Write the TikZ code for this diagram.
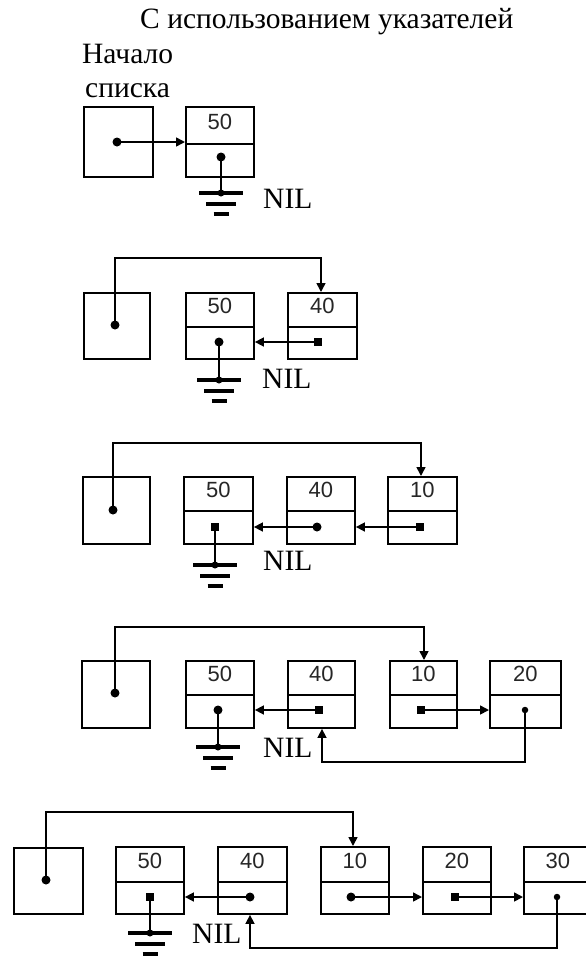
\documentclass[tikz,border=0pt]{standalone}
\usepackage{fontspec}
\setmainfont{Liberation Serif}
\newfontfamily\numfont{Liberation Sans}
\usetikzlibrary{arrows.meta}
\tikzset{
 box/.style={draw, line width=1.9pt, inner sep=0pt, rectangle},
 numtxt/.style={font=\numfont\fontsize{22}{22}\selectfont, text=black!85, text depth=8pt},
 lbl/.style={font=\fontsize{29.5}{31}\selectfont, inner sep=0pt, anchor=base west},
 ptr/.style={line width=1.6pt, -{Triangle[length=9pt,width=9pt]}},
 wire/.style={line width=1.6pt},
 rdot/.style={circle, fill, inner sep=0pt, minimum size=9pt},
 sdot/.style={rectangle, fill, inner sep=0pt, minimum size=8pt},
 tdot/.style={circle, fill, inner sep=0pt, minimum size=6.5pt},
 gbar/.style={line width=4pt},
}
\newcommand\headbox[5]{%
 \node[box, anchor=north west, minimum width={#4-#2}, minimum height={#5-#3}] (#1) at (#2,#3) {};}
\newcommand\lnode[7]{%
 \node[box, numtxt, anchor=north west, minimum width={#4-#2}, minimum height={#5-#3}] (#1t) at (#2,#3) {#7};
 \node[box, anchor=north west, minimum width={#4-#2}, minimum height={#6-#5}] (#1b) at (#2,#5) {};}
\newcommand\ground[1]{%
 \draw[gbar] ([xshift=-22pt]#1) -- ([xshift=22pt]#1);
 \draw[gbar] ([xshift=-15pt,yshift=-10.5pt]#1) -- ([xshift=15pt,yshift=-10.5pt]#1);
 \draw[gbar] ([xshift=-7.5pt,yshift=-21pt]#1) -- ([xshift=7.5pt,yshift=-21pt]#1);
 \fill (#1) circle (3.5pt);}
\begin{document}
\begin{tikzpicture}[x=1pt,y=-1pt]
\useasboundingbox (0,0) rectangle (586,956);
\clip (0,0) rectangle (586,956);
% labels
\node[lbl] (title) at (140,28) {С использованием указателей};
\node[lbl] (start1) at (82,63) {Начало};
\node[lbl] (start2) at (85,97) {списка};
% row 1
\headbox{r1h}{83}{106}{152}{176}
\lnode{r1a}{185}{106}{253}{143}{176}{50}
\node[rdot] (r1ph) at (117,142) {};
\node[rdot] (r1pa) at (221,157) {};
\draw[ptr] (r1ph.center) -- (r1ph.center -| r1at.west);
\coordinate (r1g) at (221,193);
\draw[wire] (r1pa.center) -- (r1g);
\ground{r1g}
\node[lbl] (r1nil) at (263,208) {NIL};
% row 2
\headbox{r2h}{83}{292}{149}{358}
\lnode{r2a}{185}{292}{253}{326}{358}{50}
\lnode{r2b}{287}{292}{356}{326}{358}{40}
\node[rdot] (r2ph) at (115,325) {};
\node[rdot] (r2pa) at (219,342) {};
\node[sdot] (r2pb) at (318,342) {};
\coordinate (r2c) at (321,258);
\draw[ptr] (r2ph.center) |- (r2c) -- (r2c |- r2bt.north);
\draw[ptr] (r2pb.center) -- (r2pb.center -| r2ab.east);
\coordinate (r2g) at (219,380);
\draw[wire] (r2pa.center) -- (r2g);
\ground{r2g}
\node[lbl] (r2nil) at (262,388) {NIL};
% row 3
\headbox{r3h}{82}{476}{149}{543}
\lnode{r3a}{183}{476}{252}{510}{543}{50}
\lnode{r3b}{286}{476}{354}{510}{543}{40}
\lnode{r3c}{387}{476}{456}{510}{543}{10}
\node[rdot] (r3ph) at (113,510) {};
\node[sdot] (r3pa) at (215,527) {};
\node[rdot] (r3pb) at (317,527) {};
\node[sdot] (r3pc) at (420,527) {};
\coordinate (r3t) at (421,443);
\draw[ptr] (r3ph.center) |- (r3t) -- (r3t |- r3ct.north);
\draw[ptr] (r3pb.center) -- (r3pb.center -| r3ab.east);
\draw[ptr] (r3pc.center) -- (r3pc.center -| r3bb.east);
\coordinate (r3g) at (215,565);
\draw[wire] (r3pa.center) -- (r3g);
\ground{r3g}
\node[lbl] (r3nil) at (263,570) {NIL};
% row 4
\headbox{r4h}{81}{660}{149}{727}
\lnode{r4a}{185}{660}{253}{694}{727}{50}
\lnode{r4b}{287}{660}{354}{694}{727}{40}
\lnode{r4c}{389}{660}{456}{694}{727}{10}
\lnode{r4d}{489}{660}{560}{694}{727}{20}
\node[rdot] (r4ph) at (115,693) {};
\node[rdot] (r4pa) at (218,710) {};
\node[sdot] (r4pb) at (319,710) {};
\node[sdot] (r4pc) at (421,710) {};
\node[tdot] (r4pd) at (525,710) {};
\coordinate (r4t) at (424,627);
\draw[ptr] (r4ph.center) |- (r4t) -- (r4t |- r4ct.north);
\draw[ptr] (r4pb.center) -- (r4pb.center -| r4ab.east);
\draw[ptr] (r4pc.center) -- (r4pc.center -| r4db.west);
\coordinate (r4k) at (322,762);
\draw[ptr] (r4pd.center) |- (r4k) -- (r4k |- r4bb.south);
\coordinate (r4g) at (218,747);
\draw[wire] (r4pa.center) -- (r4g);
\ground{r4g}
\node[lbl] (r4nil) at (263,757) {NIL};
% row 5
\headbox{r5h}{13}{847}{82}{913}
\lnode{r5a}{115}{846}{183}{881}{913}{50}
\lnode{r5b}{217}{846}{286}{881}{913}{40}
\lnode{r5c}{320}{846}{388}{881}{913}{10}
\lnode{r5d}{422}{846}{490}{881}{913}{20}
\lnode{r5e}{523}{846}{591}{881}{913}{30}
\node[rdot] (r5ph) at (46,880) {};
\node[sdot] (r5pa) at (150,897) {};
\node[rdot] (r5pb) at (250,897) {};
\node[rdot] (r5pc) at (351,897) {};
\node[sdot] (r5pd) at (455,897) {};
\node[tdot] (r5pe) at (557,897) {};
\coordinate (r5t) at (353,812);
\draw[ptr] (r5ph.center) |- (r5t) -- (r5t |- r5ct.north);
\draw[ptr] (r5pb.center) -- (r5pb.center -| r5ab.east);
\draw[ptr] (r5pc.center) -- (r5pc.center -| r5db.west);
\draw[ptr] (r5pd.center) -- (r5pd.center -| r5eb.west);
\coordinate (r5k) at (250,948);
\draw[ptr] (r5pe.center) |- (r5k) -- (r5k |- r5bb.south);
\coordinate (r5g) at (150,933);
\draw[wire] (r5pa.center) -- (r5g);
\ground{r5g}
\node[lbl] (r5nil) at (192,943) {NIL};
\end{tikzpicture}
\end{document}
